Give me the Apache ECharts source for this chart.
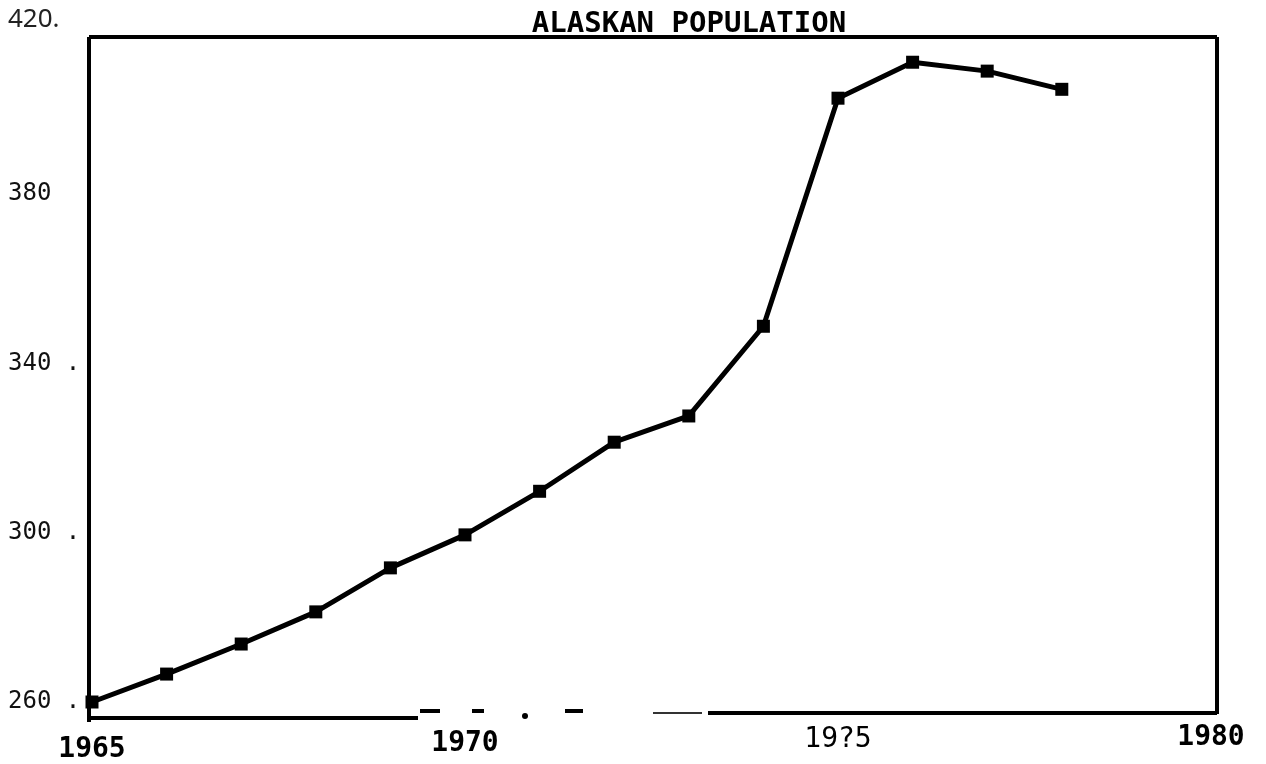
<!DOCTYPE html>
<html>
<head>
<meta charset="utf-8">
<style>
  html, body { margin: 0; padding: 0; background: #fff; }
  #chart { width: 1266px; height: 764px; }
</style>
<script src="https://cdn.jsdelivr.net/npm/echarts@6/dist/echarts.min.js"></script>
</head>
<body>
<div id="chart"></div>
<script>
// data (population, thousands)
const years = [1965, 1966, 1967, 1968, 1969, 1970, 1971, 1972, 1973, 1974, 1975, 1976, 1977, 1978];
const population = [260, 266.6, 273.7, 281.3, 291.7, 299.5, 309.8, 321.4, 327.6, 348.8, 402.7, 411.2, 409.1, 404.8];

const xTickValues = [1965, 1970, 1975, 1980];
const xTickLabels = ['1965', '1970', '19?5', '1980'];
const yTickValues = [260, 300, 340, 380, 420];
const yTickLabels = ['260 .', '300 .', '340 .', '380', '420.'];

const chart = echarts.init(document.getElementById('chart'));

const mono = 'DejaVu Sans Mono';

// frame pieces (the scanned box is a little uneven)
const frameLines = [
    [[89, 37], [89, 722]],
    [[89, 37], [1217, 37]],
    [[1217, 37], [1217, 714]],
    [[89, 718], [418, 718]],
    [[420, 711], [440, 711]],
    [[472, 711], [484, 711]],
    [[565, 711], [583, 711]],
    [[708, 713], [1217, 713]]
];

const frameGraphics = frameLines.map(function (l) {
    return {
        type: 'line',
        shape: { x1: l[0][0], y1: l[0][1], x2: l[1][0], y2: l[1][1] },
        style: { stroke: '#000', lineWidth: 4 },
        z: 1
    };
});
frameGraphics.push({
    type: 'circle', shape: { cx: 525, cy: 716, r: 3 }, style: { fill: '#000' }
});
frameGraphics.push({
    type: 'line', shape: { x1: 653, y1: 713, x2: 702, y2: 713 },
    style: { stroke: '#333', lineWidth: 2 }
});

const option = {
    backgroundColor: '#fff',
    animation: false,
    title: {
        text: 'ALASKAN POPULATION',
        left: 684,
        textAlign: 'center',
        top: 5,
        textStyle: { fontFamily: mono, fontWeight: 'bold', fontSize: 29, color: '#000' }
    },
    grid: { left: 92, right: 55, top: 25, bottom: 62 },
    xAxis: {
        type: 'value',
        min: 1965,
        max: 1980,
        interval: 5,
        axisLine: { show: false },
        axisTick: { show: false },
        splitLine: { show: false },
        axisLabel: {
            margin: 22,
            formatter: function (v) {
                const i = xTickValues.indexOf(v);
                return i < 0 ? '' : '{s' + i + '|' + xTickLabels[i] + '}';
            },
            rich: {
                s0: { fontFamily: mono, fontWeight: 'bold', fontSize: 28, color: '#000', padding: [12, 0, 0, 0] },
                s1: { fontFamily: mono, fontWeight: 'bold', fontSize: 28, color: '#000', padding: [6, 0, 0, 0] },
                s2: { fontFamily: mono, fontWeight: 'normal', fontSize: 28, color: '#000', padding: [2, 0, 0, 0] },
                s3: { fontFamily: mono, fontWeight: 'bold', fontSize: 28, color: '#000', padding: [0, 0, 0, 0] }
            }
        }
    },
    yAxis: {
        type: 'value',
        min: 260,
        max: 420,
        interval: 40,
        axisLine: { show: false },
        axisTick: { show: false },
        splitLine: { show: false },
        axisLabel: {
            align: 'left',
            margin: 84,
            formatter: function (v) {
                const i = yTickValues.indexOf(v);
                if (i < 0) return '';
                return (v === 420 ? '{top|' : '{t|') + yTickLabels[i] + '}';
            },
            rich: {
                t: { fontFamily: mono, fontSize: 24, color: '#111' },
                top: { fontFamily: 'Noto Sans', fontSize: 26, color: '#222', padding: [0, 0, 10, 0] }
            }
        }
    },
    series: [{
        type: 'line',
        data: years.map(function (y, i) { return [y, population[i]]; }),
        symbol: 'rect',
        symbolSize: 13,
        lineStyle: { color: '#000', width: 5 },
        itemStyle: { color: '#000' },
        z: 5
    }],
    graphic: frameGraphics
};

chart.setOption(option);
</script>
</body>
</html>
